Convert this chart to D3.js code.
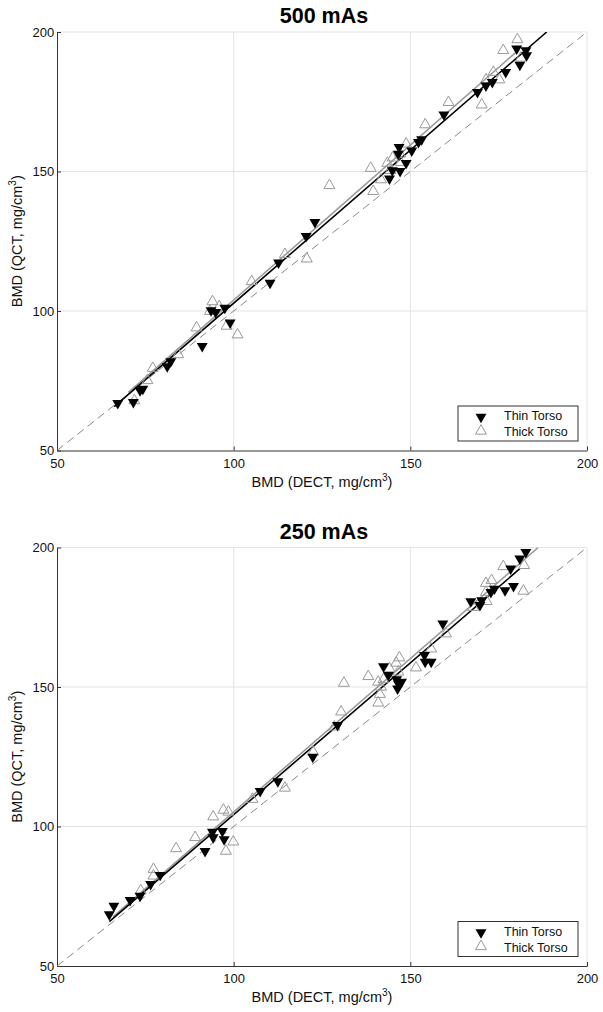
<!DOCTYPE html>
<html><head><meta charset="utf-8">
<script src="https://cdn.jsdelivr.net/npm/d3@7"></script>
<style>body{margin:0;background:#fff;}svg{display:block;font-family:"Liberation Sans",Arial,sans-serif;}</style>
</head><body>
<svg id="c" width="603" height="1012"></svg>
<script>
const titles = ["500 mAs", "250 mAs"];
const ticks = [50, 100, 150, 200];
const seriesNames = ["Thin Torso", "Thick Torso"];

// 500 mAs
const thin500 = [[67.2,67.0],[71.6,67.3],[73.5,71.5],[74.3,72.1],[81.2,80.1],[82.2,81.9],[91.1,87.4],[93.6,100.2],[94.9,99.6],[97.5,101.1],[99.0,95.8],[110.3,110.1],[112.7,117.3],[120.5,126.8],[123.0,131.8],[144.1,147.4],[144.9,150.4],[147.1,150.1],[148.8,153.0],[146.6,156.3],[146.8,158.7],[150.4,157.5],[152.3,160.5],[153.2,161.5],[159.5,170.4],[169.0,178.4],[171.4,180.8],[173.2,182.0],[177.0,185.6],[181.0,188.2],[180.1,194.0],[182.7,193.4],[182.9,191.6]];
const thick500 = [[71.9,67.9],[75.6,75.1],[77.1,79.5],[84.3,84.4],[89.5,94.0],[94.0,103.4],[93.3,99.9],[95.9,101.6],[98.0,94.6],[101.1,91.5],[105.1,110.6],[114.5,120.3],[120.7,118.7],[127.1,145.0],[138.8,151.2],[139.5,142.9],[141.7,147.1],[143.5,153.0],[144.4,150.4],[145.0,154.9],[147.3,153.3],[147.1,156.3],[148.8,159.9],[154.2,166.8],[160.8,174.8],[170.2,173.9],[171.4,182.9],[173.5,185.6],[175.2,182.9],[176.3,193.4],[180.3,197.3],[181.3,190.7]];
// fitted line end points [x0,y0,x1,y1]
const fitThin500 = [66.2,65.7,188.6,200];
const fitThick500 = [70.2,70.8,180.6,193.5];

// 250 mAs
const thin250 = [[64.8,68.5],[66.1,71.5],[70.7,73.6],[73.5,75.1],[76.5,79.3],[79.2,82.6],[91.9,91.2],[94.0,98.1],[94.2,96.1],[96.8,98.3],[97.3,95.4],[107.5,112.7],[112.5,116.2],[122.4,124.9],[129.4,136.3],[142.4,157.4],[143.8,154.2],[146.1,152.7],[146.6,151.2],[146.4,149.4],[147.5,151.8],[154.0,161.4],[154.2,159.0],[155.9,159.0],[159.2,172.7],[167.1,180.7],[169.7,179.3],[170.2,181.0],[172.8,184.0],[173.8,185.2],[176.8,184.6],[179.2,186.1],[178.4,192.4],[181.0,196.0],[182.7,198.3]];
const thick250 = [[73.7,77.0],[77.3,84.7],[77.3,82.3],[83.7,92.1],[89.1,96.1],[94.2,103.5],[97.1,105.9],[98.5,105.2],[97.8,91.2],[99.9,94.5],[105.3,109.8],[114.5,113.8],[122.5,126.7],[131.2,151.4],[130.4,141.1],[128.5,135.7],[138.1,153.8],[140.9,151.8],[142.4,152.7],[141.7,150.0],[141.4,147.4],[140.9,144.3],[144.1,156.6],[146.0,158.6],[146.9,160.5],[146.6,155.4],[151.6,156.9],[155.9,163.7],[160.1,169.1],[167.8,178.6],[171.6,180.7],[171.4,184.0],[171.4,187.2],[173.0,188.2],[176.3,193.2],[182.2,193.6],[182.0,184.4]];
const fitThin250 = [64.8,65.9,181.0,192.4];
const fitThick250 = [65.9,67.7,186.2,200];

const panels = [
  {title: titles[0], top: 32, thin: thin500, thick: thick500, fThin: fitThin500, fThick: fitThick500},
  {title: titles[1], top: 547.5, thin: thin250, thick: thick250, fThin: fitThin250, fThick: fitThick250}
];

const svg = d3.select("#c");
const L = 57, R = 587, H = 418.5;
const tri = d3.symbol().type(d3.symbolTriangle).size(52);

panels.forEach((p, i) => {
  const g = svg.append("g");
  const x = d3.scaleLinear().domain([50, 200]).range([L, R]);
  const y = d3.scaleLinear().domain([50, 200]).range([p.top + H, p.top]);
  const clipId = "clip" + i;
  g.append("clipPath").attr("id", clipId).append("rect")
    .attr("x", L).attr("y", p.top).attr("width", R - L).attr("height", H);

  // grid
  g.selectAll(".gx").data(ticks.slice(1)).join("line")
    .attr("x1", d => x(d)).attr("x2", d => x(d)).attr("y1", p.top).attr("y2", p.top + H)
    .attr("stroke", "#e3e3e3").attr("stroke-width", 1);
  g.selectAll(".gy").data(ticks.slice(1)).join("line")
    .attr("y1", d => y(d)).attr("y2", d => y(d)).attr("x1", L).attr("x2", R)
    .attr("stroke", "#e3e3e3").attr("stroke-width", 1);

  // axes
  const xa = g.append("g").attr("transform", `translate(0,${p.top + H})`)
    .call(d3.axisBottom(x).tickValues(ticks).tickSize(-4).tickPadding(8).tickSizeOuter(0));
  const ya = g.append("g").attr("transform", `translate(${L},0)`)
    .call(d3.axisLeft(y).tickValues(ticks).tickSize(-4).tickPadding(4).tickSizeOuter(0));
  [xa, ya].forEach(a => {
    a.select(".domain").attr("stroke", "#333");
    a.selectAll(".tick line").attr("stroke", "#333");
    a.selectAll("text").attr("font-size", 13).attr("fill", "#111")
      .attr("font-family", '"Liberation Sans",Arial,sans-serif');
  });
  ya.selectAll("text").attr("dx", "0.1em");

  const plot = g.append("g").attr("clip-path", `url(#${clipId})`);
  // identity line
  plot.append("line").attr("x1", x(50)).attr("y1", y(50)).attr("x2", x(200)).attr("y2", y(200))
    .attr("stroke", "#888").attr("stroke-width", 1).attr("stroke-dasharray", "8,5");
  // fits
  plot.append("line").attr("x1", x(p.fThick[0])).attr("y1", y(p.fThick[1])).attr("x2", x(p.fThick[2])).attr("y2", y(p.fThick[3]))
    .attr("stroke", "#999").attr("stroke-width", 1.6);
  plot.append("line").attr("x1", x(p.fThin[0])).attr("y1", y(p.fThin[1])).attr("x2", x(p.fThin[2])).attr("y2", y(p.fThin[3]))
    .attr("stroke", "#000").attr("stroke-width", 1.6);

  // thick markers (open up triangles)
  plot.selectAll(".tk").data(p.thick).join("path")
    .attr("d", tri).attr("transform", d => `translate(${x(d[0])},${y(d[1])})`)
    .attr("fill", "none").attr("stroke", "#999").attr("stroke-width", 1);
  // thin markers (filled down triangles)
  plot.selectAll(".tn").data(p.thin).join("path")
    .attr("d", tri).attr("transform", d => `translate(${x(d[0])},${y(d[1])}) rotate(180)`)
    .attr("fill", "#000");

  // title
  g.append("text").attr("x", 324).attr("y", p.top - 9).attr("text-anchor", "middle")
    .attr("font-size", 21.5).attr("font-weight", "bold").text(p.title);

  // x label
  const xl = g.append("text").attr("x", 322).attr("y", p.top + H + 36).attr("text-anchor", "middle")
    .attr("font-size", 14.5).attr("fill", "#111");
  xl.append("tspan").text("BMD (DECT, mg/cm");
  xl.append("tspan").attr("font-size", 10).attr("dy", -6).text("3");
  xl.append("tspan").attr("dy", 6).text(")");
  // y label
  const yl = g.append("text").attr("transform", `translate(22,${p.top + H / 2}) rotate(-90)`)
    .attr("text-anchor", "middle").attr("font-size", 14.5).attr("fill", "#111");
  yl.append("tspan").text("BMD (QCT, mg/cm");
  yl.append("tspan").attr("font-size", 10).attr("dy", -6).text("3");
  yl.append("tspan").attr("dy", 6).text(")");

  // legend
  const lg = g.append("g").attr("transform", `translate(458,${p.top + H - 44.5})`);
  lg.append("rect").attr("width", 120).attr("height", 35).attr("fill", "#fff").attr("stroke", "#333").attr("stroke-width", 1);
  lg.append("path").attr("d", tri).attr("transform", "translate(23,11) rotate(180)").attr("fill", "#000");
  lg.append("path").attr("d", tri).attr("transform", "translate(23,25)").attr("fill", "none").attr("stroke", "#999");
  lg.append("text").attr("x", 46).attr("y", 14).attr("font-size", 12.5).attr("fill", "#111").text(seriesNames[0]);
  lg.append("text").attr("x", 46).attr("y", 30).attr("font-size", 12.5).attr("fill", "#111").text(seriesNames[1]);
});
</script>
</body></html>
